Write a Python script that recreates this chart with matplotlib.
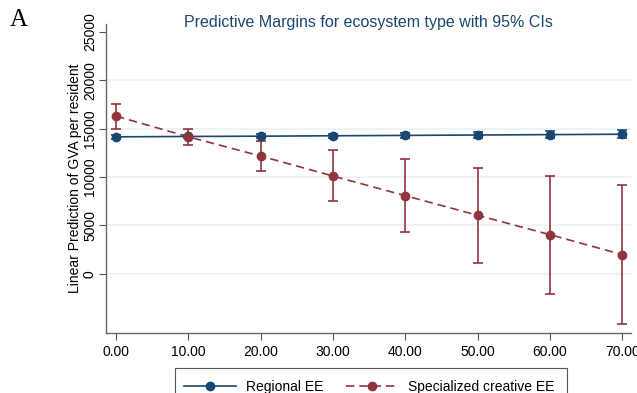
import matplotlib.pyplot as plt
from matplotlib.patches import Rectangle

# values
share = [0, 10, 20, 30, 40, 50, 60, 70]
regional = [14150, 14190, 14220, 14260, 14300, 14340, 14380, 14420]
regional_lo = [13950, 14000, 14010, 14030, 14050, 14060, 14040, 14030]
regional_hi = [14350, 14380, 14430, 14490, 14550, 14620, 14720, 14810]
specialized = [16290, 14150, 12165, 10100, 8075, 6050, 4050, 1990]
specialized_lo = [14980, 13350, 10650, 7525, 4360, 1165, -2030, -5190]
specialized_hi = [17530, 14950, 13700, 12750, 11855, 10960, 10100, 9210]
y_ticks = [0, 5000, 10000, 15000, 20000, 25000]
x_labels = ["0.00", "10.00", "20.00", "30.00", "40.00", "50.00", "60.00", "70.00"]

navy = "#1a476f"
maroon = "#90353b"

plt.rcParams["font.family"] = ["Liberation Sans", "DejaVu Sans"]

fig = plt.figure(figsize=(6.37, 3.93), dpi=100)
ax = fig.add_axes([106 / 637, 1 - 333 / 393, (631 - 106) / 637, (333 - 24) / 393])


def draw(values, lo, hi, color, style, label):
    err = [[v - l for v, l in zip(values, lo)], [h - v for v, h in zip(values, hi)]]
    ax.errorbar(share, values, yerr=err, fmt="none", ecolor=color, elinewidth=1.2,
                capsize=3.5, capthick=1.2, zorder=3)
    ax.plot(share, values, color=color, linestyle=style, linewidth=1.2, marker="o",
            markersize=6, label=label, zorder=4,
            dashes=(5, 3) if style == "--" else (None, None))


draw(regional, regional_lo, regional_hi, navy, "-", "Regional EE")
draw(specialized, specialized_lo, specialized_hi, maroon, "--", "Specialized creative EE")

ax.set_xlim(-1.4, 71.2)
ax.set_ylim(-6100, 25800)
ax.set_xticks(share)
ax.set_xticklabels(x_labels, fontsize=10)
ax.set_yticks(y_ticks)
ax.set_yticklabels([str(t) for t in y_ticks], fontsize=10, rotation=90, va="center")
ax.tick_params(colors="#555555", labelcolor="black", length=5, width=0.8)
ax.tick_params(axis="y", pad=1.5)
ax.set_ylabel("Linear Prediction of GVA per resident", fontsize=10, labelpad=1)

for side in ["top", "right"]:
    ax.spines[side].set_visible(False)
for side in ["left", "bottom"]:
    ax.spines[side].set_color("#666666")
    ax.spines[side].set_linewidth(1)

for t in y_ticks[:-1]:
    ax.axhline(t, color="#eaf2f3", linewidth=1.2, zorder=0)

fig.text(0.578, 1 - 22 / 393, "Predictive Margins for ecosystem type with 95% CIs",
         fontsize=11.5, color=navy, ha="center", va="center")
fig.text(0.015, 1 - 20 / 393, "A", family="Liberation Serif", fontsize=18, va="center")

# legend entries without frame, box drawn separately (bottom edge runs off the picture)
fig.legend(loc="upper left", bbox_to_anchor=(178 / 637, 1 - 374 / 393), borderaxespad=0,
           ncol=2, frameon=False, fontsize=10, handlelength=3.8, columnspacing=1.6,
           handletextpad=0.7)
fig.patches.append(Rectangle((175 / 637, 1 - 396 / 393), 392 / 637, 28 / 393,
                             transform=fig.transFigure, fill=False,
                             edgecolor="#555555", linewidth=0.8))

fig.savefig("out.png", dpi=100)
